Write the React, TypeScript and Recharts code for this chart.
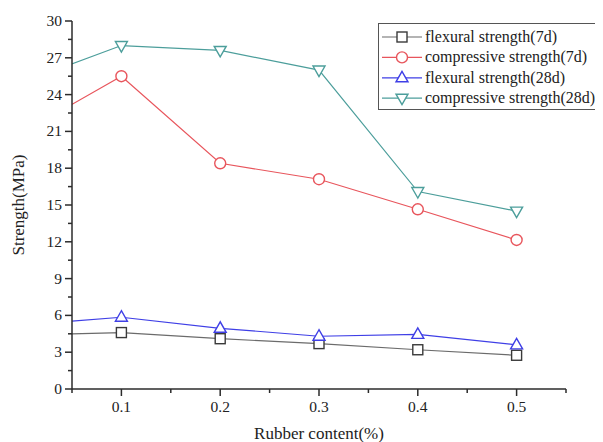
import { Label, Line, LineChart, XAxis, YAxis } from 'recharts';

// rubber content (%); the first point sits left of the visible axis range
const rubberContent = [0, 0.1, 0.2, 0.3, 0.4, 0.5];
const flexural7d = [4.4, 4.6, 4.1, 3.7, 3.2, 2.75];
const compressive7d = [20.9, 25.5, 18.4, 17.1, 14.65, 12.15];
const flexural28d = [5.2, 5.85, 4.95, 4.3, 4.45, 3.6];
const compressive28d = [25.0, 28.0, 27.6, 26.0, 16.1, 14.5];

const xTicks = [0.05, 0.1, 0.15, 0.2, 0.25, 0.3, 0.35, 0.4, 0.45, 0.5, 0.55];
const yTicks = [0, 1.5, 3, 4.5, 6, 7.5, 9, 10.5, 12, 13.5, 15, 16.5, 18, 19.5, 21, 22.5, 24, 25.5, 27, 28.5, 30];

const FONT = "'Liberation Serif', 'DejaVu Serif', serif";
const AXIS = '#2b2b2b';
const textStyle = { fontFamily: FONT };

type Shape = 'square' | 'circle' | 'triangle' | 'triangleDown';

const series: { key: string; name: string; line: string; mark: string; shape: Shape }[] = [
  { key: 'f7', name: 'flexural strength(7d)', line: '#6b6b6b', mark: '#3a3a3a', shape: 'square' },
  { key: 'c7', name: 'compressive strength(7d)', line: '#e8555c', mark: '#e8555c', shape: 'circle' },
  { key: 'f28', name: 'flexural strength(28d)', line: '#3f3fe6', mark: '#3f3fe6', shape: 'triangle' },
  { key: 'c28', name: 'compressive strength(28d)', line: '#4c9e9b', mark: '#4c9e9b', shape: 'triangleDown' },
];

const data = rubberContent.map((x, i) => ({
  x,
  f7: flexural7d[i],
  c7: compressive7d[i],
  f28: flexural28d[i],
  c28: compressive28d[i],
}));

function Marker({ shape, cx, cy, color }: { shape: Shape; cx: number; cy: number; color: string }) {
  const common = { fill: '#fff', stroke: color, strokeWidth: 1.4 };
  if (shape === 'square') return <rect x={cx - 5} y={cy - 5} width={10} height={10} {...common} />;
  if (shape === 'circle') return <circle cx={cx} cy={cy} r={5.5} {...common} />;
  if (shape === 'triangle')
    return <polygon points={`${cx},${cy - 6.5} ${cx - 6},${cy + 4} ${cx + 6},${cy + 4}`} {...common} />;
  return <polygon points={`${cx},${cy + 6.5} ${cx - 6},${cy - 4} ${cx + 6},${cy - 4}`} {...common} />;
}

function makeDot(shape: Shape, color: string) {
  return (props: any) => {
    const { cx, cy, payload, index } = props;
    if (payload.x < 0.05 || cx == null || cy == null) return <g key={index} />;
    return <Marker key={index} shape={shape} cx={cx} cy={cy} color={color} />;
  };
}

function YTick(props: any) {
  const { x, y, payload } = props;
  const major = payload.value % 3 === 0;
  return (
    <g>
      <line x1={x} x2={x - (major ? 7 : 4)} y1={y} y2={y} stroke={AXIS} strokeWidth={1.5} />
      {major && (
        <text x={x - 10} y={y + 5} textAnchor="end" style={textStyle} fontSize={15.5} fill="#222">
          {payload.value}
        </text>
      )}
    </g>
  );
}

function XTick(props: any) {
  const { x, y, payload } = props;
  const major = Math.round(payload.value * 100) % 10 === 0;
  return (
    <g>
      <line x1={x} x2={x} y1={y} y2={y + (major ? 7 : 4)} stroke={AXIS} strokeWidth={1.5} />
      {major && (
        <text x={x} y={y + 23} textAnchor="middle" style={textStyle} fontSize={15.5} fill="#222">
          {payload.value.toFixed(1)}
        </text>
      )}
    </g>
  );
}

function LegendBox() {
  return (
    <svg width={225} height={88} style={{ position: 'absolute', left: 370, top: 15, overflow: 'visible' }}>
      <rect x={0.5} y={0.5} width={223} height={86} fill="#fff" stroke="#555" strokeWidth={1} />
      {series.map((s, i) => {
        const cy = 14 + i * 20.4;
        return (
          <g key={s.key}>
            <line x1={4} x2={44} y1={cy} y2={cy} stroke={s.line} strokeWidth={1.2} />
            <Marker shape={s.shape} cx={24} cy={cy} color={s.mark} />
            <text x={47} y={cy + 5} style={textStyle} fontSize={16} fill="#222">
              {s.name}
            </text>
          </g>
        );
      })}
    </svg>
  );
}

export default function App() {
  return (
    <div style={{ position: 'relative', width: 595, height: 434, background: '#fff', fontFamily: FONT }}>
      <LineChart width={595} height={434} data={data} margin={{ top: 13, right: 37, bottom: 0, left: 0 }}>
        <XAxis
          type="number"
          dataKey="x"
          domain={[0.05, 0.55]}
          allowDataOverflow
          ticks={xTicks}
          interval={0}
          height={53}
          tickSize={0}
          tickMargin={0}
          tickLine={false}
          axisLine={{ stroke: AXIS, strokeWidth: 1.5 }}
          tick={<XTick />}
        >
          <Label
            content={({ viewBox }: any) => (
              <text
                x={viewBox.x + viewBox.width / 2}
                y={viewBox.y + 50}
                textAnchor="middle"
                style={textStyle}
                fontSize={17}
                fill="#222"
              >
                Rubber content(%)
              </text>
            )}
          />
        </XAxis>
        <YAxis
          type="number"
          domain={[0, 30]}
          allowDataOverflow
          ticks={yTicks}
          interval={0}
          width={64}
          tickSize={0}
          tickMargin={0}
          tickLine={false}
          axisLine={{ stroke: AXIS, strokeWidth: 1.5 }}
          tick={<YTick />}
        >
          <Label
            content={({ viewBox }: any) => {
              const cx = viewBox.x + 16;
              const cy = viewBox.y + viewBox.height / 2;
              return (
                <text
                  x={cx}
                  y={cy}
                  transform={`rotate(-90 ${cx} ${cy})`}
                  textAnchor="middle"
                  style={textStyle}
                  fontSize={17}
                  fill="#222"
                >
                  Strength(MPa)
                </text>
              );
            }}
          />
        </YAxis>
        {series.map((s) => (
          <Line
            key={s.key}
            type="linear"
            dataKey={s.key}
            name={s.name}
            stroke={s.line}
            strokeWidth={1.2}
            dot={makeDot(s.shape, s.mark)}
            activeDot={false}
            isAnimationActive={false}
          />
        ))}
      </LineChart>
      <LegendBox />
    </div>
  );
}
